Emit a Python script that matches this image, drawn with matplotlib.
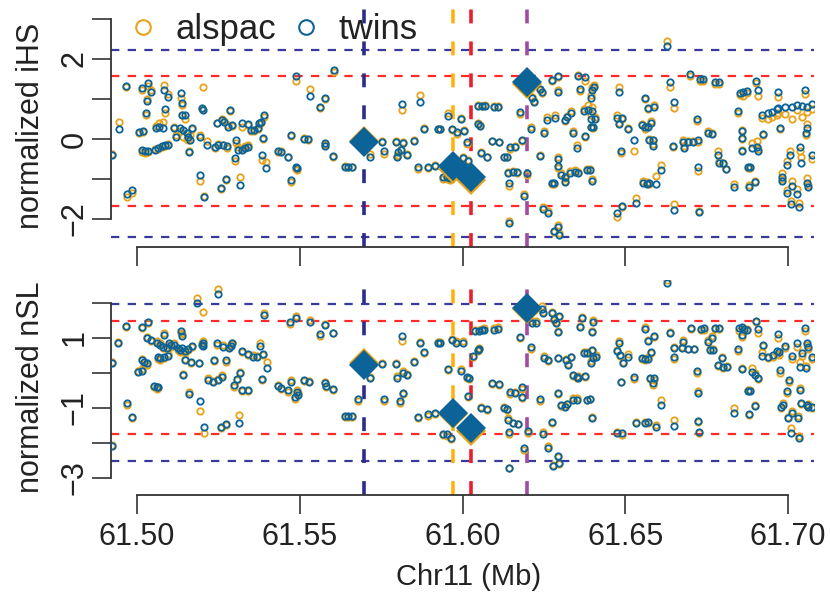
import matplotlib.pyplot as plt
from matplotlib.lines import Line2D

plt.rcParams['font.family'] = ['Liberation Sans', 'DejaVu Sans']
plt.rcParams['lines.scale_dashes'] = False

# SNP positions on chr11 (Mb) and normalized iHS per cohort
ihs_pos = [
    61.4922, 61.4945, 61.4965, 61.4968, 61.4984, 61.5006, 61.5018, 61.5014,
    61.5014, 61.5025, 61.5033, 61.5028, 61.5034, 61.5043, 61.5030, 61.5055,
    61.5065, 61.5077, 61.5086, 61.5095, 61.5058, 61.5068, 61.5080, 61.5083,
    61.5095, 61.5086, 61.5114, 61.5120, 61.5135, 61.5138, 61.5138, 61.5147,
    61.5132, 61.5141, 61.5154, 61.5157, 61.5169, 61.5163, 61.5160, 61.5194,
    61.5200, 61.5203, 61.5194, 61.5206, 61.5215, 61.5240, 61.5249, 61.5264,
    61.5276, 61.5246, 61.5261, 61.5267, 61.5286, 61.5280, 61.5292, 61.5258,
    61.5273, 61.5304, 61.5301, 61.5310, 61.5323, 61.5332, 61.5316, 61.5323,
    61.5341, 61.5350, 61.5359, 61.5372, 61.5375, 61.5381, 61.5341, 61.5390,
    61.5387, 61.5384, 61.5396, 61.5433, 61.5442, 61.5464, 61.5473, 61.5473,
    61.5488, 61.5492, 61.5488, 61.5513, 61.5525, 61.5531, 61.5562, 61.5578,
    61.5578, 61.5578, 61.5602, 61.5605, 61.5639, 61.5648, 61.5661, 61.5753,
    61.5759, 61.5716, 61.5796, 61.5817, 61.5851, 61.5802, 61.5811, 61.5829,
    61.5799, 61.5814, 61.5869, 61.5882, 61.5925, 61.5931, 61.5863, 61.5894,
    61.5916, 61.5955, 61.5995, 61.5968, 61.5983, 61.6005, 61.5940, 61.5952,
    61.5962, 61.6002, 61.6017, 61.6014, 61.6048, 61.6060, 61.6069, 61.6097,
    61.6109, 61.6048, 61.6054, 61.6057, 61.6075, 61.6091, 61.6112, 61.6127,
    61.6137, 61.6146, 61.6161, 61.6183, 61.6177, 61.6140, 61.6155, 61.6167,
    61.6143, 61.6198, 61.6189, 61.6143, 61.6214, 61.6220, 61.6238, 61.6244,
    61.6210, 61.6238, 61.6250, 61.6260, 61.6284, 61.6247, 61.6262, 61.6293,
    61.6281, 61.6296, 61.6275, 61.6293, 61.6293, 61.6315, 61.6321, 61.6333,
    61.6340, 61.6352, 61.6293, 61.6303, 61.6315, 61.6315, 61.6330, 61.6346,
    61.6355, 61.6275, 61.6281, 61.6293, 61.6355, 61.6361, 61.6373, 61.6376,
    61.6398, 61.6404, 61.6395, 61.6386, 61.6398, 61.6395, 61.6407, 61.6395,
    61.6401, 61.6376, 61.6382, 61.6392, 61.6398, 61.6475, 61.6490, 61.6533,
    61.6481, 61.6475, 61.6481, 61.6490, 61.6508, 61.6487, 61.6527, 61.6561,
    61.6570, 61.6588, 61.6551, 61.6561, 61.6570, 61.6579, 61.6573, 61.6585,
    61.6585, 61.6610, 61.6555, 61.6567, 61.6573, 61.6594, 61.6628, 61.6637,
    61.6650, 61.6647, 61.6650, 61.6677, 61.6692, 61.6708, 61.6723, 61.6680,
    61.6720, 61.6723, 61.6727, 61.6699, 61.6730, 61.6739, 61.6776, 61.6788,
    61.6754, 61.6766, 61.6785, 61.6788, 61.6800, 61.6810, 61.6834, 61.6846,
    61.6853, 61.6862, 61.6874, 61.6859, 61.6859, 61.6859, 61.6877, 61.6883,
    61.6880, 61.6889, 61.6905, 61.6908, 61.6899, 61.6902, 61.6908, 61.6920,
    61.6923, 61.6939, 61.6951, 61.6966, 61.6969, 61.6991, 61.7012, 61.7028,
    61.7043, 61.7058, 61.7074, 61.6969, 61.6975, 61.7052, 61.7058, 61.7055,
    61.6997, 61.7006, 61.6982, 61.6982, 61.7012, 61.6997, 61.7009, 61.7037,
    61.7040, 61.7028, 61.7034, 61.7058, 61.7061, 61.7074,
]
ihs_twins = [
    -0.40, 0.25, 1.33, -1.38, -1.28, 0.18, 0.20, 1.28,
    -0.28, -0.30, -0.30, 0.65, 1.40, 1.18, 0.95, -0.28,
    -0.22, -0.18, -0.15, -0.15, 0.28, 0.30, 0.28, 1.23,
    1.05, 0.75, 0.28, 0.05, 1.15, 0.90, 0.60, 0.60,
    0.28, 0.22, 0.15, 0.05, 0.28, -0.03, -0.33, 0.05,
    0.78, 0.72, -0.90, -1.45, -0.15, -0.20, -0.15, -0.15,
    -0.18, 0.40, 0.48, 0.43, 0.73, 0.30, 0.35, -1.23,
    -1.00, -0.03, -0.48, -0.28, -0.28, -0.23, -1.15, 0.40,
    0.38, 0.23, 0.23, 0.28, 0.40, 0.43, -0.20, 0.60,
    0.03, -0.40, -0.73, -0.30, -0.33, -0.45, 0.10, -1.03,
    -0.70, -0.73, 1.58, 0.00, 0.00, 1.08, 0.80, 1.03,
    -0.10, -0.18, -0.43, 1.73, -0.70, -0.70, -0.70, -0.08,
    -0.30, -0.45, -0.08, -0.10, -0.05, -0.33, -0.28, -0.40,
    -0.45, 0.88, 0.93, 0.25, 0.25, 0.25, -0.70, -0.70,
    -0.68, 0.58, 0.50, 0.25, 0.18, 0.20, -0.95, -0.95,
    -0.98, -0.48, -0.55, -0.08, 0.83, 0.83, 0.83, 0.80,
    0.80, 0.38, 0.33, -0.35, -0.45, -0.05, -0.08, -0.45,
    -0.45, -0.20, -0.20, -0.03, 0.68, -0.85, -0.83, -0.83,
    -1.10, -0.85, -1.43, -2.10, 1.03, 0.93, 1.25, 1.18,
    0.25, -0.43, 0.15, 0.48, 0.53, -1.75, -1.85, -2.20,
    -2.30, -2.40, 1.48, 1.58, 1.18, 0.48, 0.55, 0.65,
    0.15, -0.23, -0.68, -0.90, -0.95, -1.08, -0.85, -0.83,
    -0.85, -1.10, -1.10, -0.50, 1.58, 1.25, 0.70, 1.55,
    1.23, 1.30, 1.03, 0.73, 0.70, 0.50, 0.50, 0.30,
    0.30, 0.08, -0.78, -0.78, -1.05, -1.85, -1.68, -1.60,
    1.18, 0.53, 0.38, 0.53, 0.25, -0.30, -0.03, 1.03,
    0.78, 0.80, 0.35, 0.30, 0.30, 0.40, -0.03, -0.03,
    -0.18, -0.78, -1.10, -1.13, -1.10, -1.13, 2.33, 1.43,
    0.93, -0.18, -1.78, -0.08, -0.08, -0.08, -0.03, -0.23,
    0.50, -0.70, -1.83, 1.63, 1.50, 1.50, 1.43, 1.43,
    0.15, 0.13, -0.40, -0.60, -0.60, -0.75, -1.20, 0.70,
    1.15, 1.18, 1.20, 0.20, 0.03, -0.30, -0.70, -0.70,
    -1.20, -0.23, -0.20, -0.30, -1.08, 1.45, 1.23, 0.60,
    0.13, 0.65, 0.68, 0.75, 0.78, 0.80, 0.80, 0.85,
    0.83, 0.80, 0.88, 1.18, 0.28, 1.23, 0.28, 0.15,
    -0.65, -0.40, -0.95, -1.05, -1.18, -1.35, -1.63, -0.20,
    -0.60, -1.38, -1.70, -1.10, -1.20, -0.40,
]
ihs_alspac = [
    -0.38, 0.43, 1.30, -1.45, -1.35, 0.15, 0.18, 1.22,
    -0.33, -0.35, -0.33, 0.60, 1.32, 1.22, 1.00, -0.25,
    -0.25, -0.20, -0.18, -0.12, 0.33, 0.40, 0.42, 1.35,
    1.12, 0.65, 0.30, 0.10, 1.02, 0.85, 0.60, 0.50,
    0.20, 0.05, 0.00, -0.02, 0.25, 0.10, -0.30, 0.10,
    0.75, 1.30, -1.05, -1.42, -0.05, -0.22, -0.13, -0.15,
    -0.22, 0.40, 0.50, 0.45, 0.70, 0.35, 0.33, -1.25,
    -1.02, -0.10, -0.55, -0.20, -0.25, -0.18, -0.95, 0.30,
    0.35, 0.20, 0.20, 0.25, 0.38, 0.40, -0.15, 0.55,
    0.00, -0.53, -0.58, -0.32, -0.30, -0.45, 0.08, -1.08,
    -0.75, -0.78, 1.45, 0.02, -0.03, 1.25, 0.78, 1.00,
    -0.12, -0.15, -0.45, 1.68, -0.68, -0.70, -0.70, -0.05,
    -0.38, -0.38, -0.05, -0.08, -0.03, -0.40, -0.25, -0.38,
    -0.42, 0.73, 1.10, 0.28, 0.25, 0.25, -0.75, -0.72,
    -0.65, 0.65, 0.52, 0.22, 0.12, 0.22, -1.00, -1.00,
    -1.02, -0.45, -0.52, -0.12, 0.85, 0.83, 0.85, 0.83,
    0.83, 0.40, 0.35, -0.33, -0.45, -0.05, -0.08, -0.45,
    -0.45, -0.25, -0.18, -0.05, 0.63, -0.83, -0.80, -0.85,
    -1.18, -0.90, -1.38, -2.05, 1.05, 0.95, 1.22, 1.15,
    0.30, -0.40, 0.20, 0.55, 0.60, -1.70, -1.80, -2.15,
    -2.33, -2.35, 1.45, 1.55, 1.22, 0.45, 0.58, 0.70,
    0.20, -0.15, -0.72, -0.85, -0.98, -1.05, -0.80, -0.78,
    -0.83, -1.12, -1.12, -0.45, 1.60, 1.20, 0.75, 1.45,
    1.30, 1.35, 1.10, 0.85, 0.80, 0.60, 0.55, 0.30,
    0.28, 0.05, -0.75, -0.75, -1.00, -1.95, -1.70, -1.48,
    1.30, 0.60, 0.40, 0.50, 0.28, -0.35, -0.30, 1.00,
    0.75, 0.85, 0.38, 0.25, 0.32, 0.45, 0.00, -0.02,
    -0.12, -0.65, -1.05, -1.08, -1.12, -0.93, 2.45, 1.30,
    0.78, -0.20, -1.63, -0.03, -0.05, -0.05, -0.08, -0.18,
    0.45, -0.80, -1.80, 1.58, 1.45, 1.45, 1.38, 1.38,
    0.20, 0.15, -0.30, -0.55, -0.62, -0.75, -1.12, 0.65,
    1.10, 1.08, 1.15, 0.22, 0.00, -0.28, -0.72, -0.72,
    -1.15, -0.10, -0.05, -0.25, -1.05, 1.40, 1.08, 0.52,
    0.10, 0.50, 0.55, 0.60, 0.65, 0.62, 0.50, 0.72,
    0.55, 0.68, 0.75, 1.05, 0.25, 1.12, 0.38, 0.10,
    -0.55, -0.30, -0.85, -1.00, -1.05, -1.28, -1.55, -0.30,
    -0.45, -1.25, -1.60, -0.98, -1.15, -0.50,
]

# normalized nSL for the same region
nsl_pos = [
    61.4923, 61.4923, 61.4942, 61.4966, 61.4969, 61.4985, 61.5003, 61.5015,
    61.5015, 61.5022, 61.5031, 61.5015, 61.5034, 61.5031, 61.5043, 61.5052,
    61.5061, 61.5065, 61.5061, 61.5071, 61.5080, 61.5092, 61.5098, 61.5104,
    61.5065, 61.5071, 61.5083, 61.5095, 61.5083, 61.5114, 61.5126, 61.5132,
    61.5138, 61.5147, 61.5157, 61.5169, 61.5135, 61.5138, 61.5147, 61.5166,
    61.5141, 61.5160, 61.5190, 61.5200, 61.5203, 61.5194, 61.5206, 61.5249,
    61.5184, 61.5202, 61.5218, 61.5233, 61.5249, 61.5261, 61.5237, 61.5246,
    61.5264, 61.5273, 61.5283, 61.5289, 61.5292, 61.5258, 61.5273, 61.5298,
    61.5307, 61.5316, 61.5323, 61.5323, 61.5341, 61.5313, 61.5341, 61.5356,
    61.5369, 61.5378, 61.5387, 61.5399, 61.5384, 61.5390, 61.5433, 61.5442,
    61.5473, 61.5464, 61.5492, 61.5495, 61.5486, 61.5470, 61.5488, 61.5513,
    61.5528, 61.5531, 61.5562, 61.5578, 61.5602, 61.5578, 61.5581, 61.5602,
    61.5639, 61.5648, 61.5661, 61.5679, 61.5716, 61.5753, 61.5759, 61.5796,
    61.5799, 61.5817, 61.5829, 61.5808, 61.5817, 61.5814, 61.5851, 61.5869,
    61.5882, 61.5863, 61.5894, 61.5916, 61.5925, 61.5931, 61.5955, 61.5968,
    61.5980, 61.6002, 61.5995, 61.6014, 61.6020, 61.6017, 61.5940, 61.5952,
    61.5965, 61.6032, 61.6048, 61.6051, 61.6038, 61.6051, 61.6060, 61.6066,
    61.6097, 61.6109, 61.6057, 61.6075, 61.6091, 61.6112, 61.6127, 61.6137,
    61.6146, 61.6161, 61.6183, 61.6183, 61.6177, 61.6140, 61.6155, 61.6170,
    61.6143, 61.6201, 61.6189, 61.6143, 61.6210, 61.6214, 61.6226, 61.6244,
    61.6247, 61.6238, 61.6247, 61.6250, 61.6262, 61.6293, 61.6262, 61.6275,
    61.6281, 61.6296, 61.6287, 61.6293, 61.6293, 61.6278, 61.6296, 61.6293,
    61.6275, 61.6303, 61.6315, 61.6321, 61.6340, 61.6352, 61.6318, 61.6324,
    61.6333, 61.6340, 61.6352, 61.6361, 61.6367, 61.6355, 61.6373, 61.6376,
    61.6398, 61.6401, 61.6382, 61.6398, 61.6401, 61.6410, 61.6395, 61.6382,
    61.6392, 61.6398, 61.6475, 61.6490, 61.6481, 61.6475, 61.6484, 61.6493,
    61.6508, 61.6487, 61.6527, 61.6533, 61.6561, 61.6570, 61.6588, 61.6551,
    61.6561, 61.6570, 61.6579, 61.6576, 61.6588, 61.6585, 61.6610, 61.6561,
    61.6570, 61.6594, 61.6628, 61.6637, 61.6650, 61.6650, 61.6650, 61.6677,
    61.6674, 61.6692, 61.6711, 61.6702, 61.6720, 61.6723, 61.6723, 61.6727,
    61.6733, 61.6742, 61.6754, 61.6766, 61.6760, 61.6769, 61.6776, 61.6788,
    61.6785, 61.6797, 61.6813, 61.6800, 61.6834, 61.6846, 61.6849, 61.6859,
    61.6865, 61.6874, 61.6859, 61.6859, 61.6880, 61.6877, 61.6883, 61.6889,
    61.6899, 61.6908, 61.6899, 61.6902, 61.6908, 61.6923, 61.6920, 61.6939,
    61.6954, 61.6966, 61.6972, 61.6969, 61.6975, 61.6991, 61.7012, 61.7028,
    61.7043, 61.7058, 61.7061, 61.7052, 61.7037, 61.7055, 61.7074, 61.6997,
    61.7003, 61.7037, 61.6985, 61.6979, 61.7000, 61.7012, 61.7031, 61.7009,
    61.7034, 61.7040, 61.7058, 61.7061, 61.7074,
]
nsl_twins = [
    0.29, -2.09, 0.86, 1.34, -0.86, -1.26, 0.03, 0.06,
    0.37, 0.31, 0.29, 1.31, 1.46, 1.00, 0.94, -0.37,
    -0.40, -0.40, 0.86, 0.80, 0.74, 0.71, 0.86, 0.80,
    0.46, 0.43, 0.46, 0.49, 1.09, 0.80, 0.71, 0.66,
    0.71, 0.63, 0.69, 0.77, 1.20, 1.06, 0.37, 0.31,
    -0.06, -0.60, 0.29, 0.80, 0.86, -0.80, -1.54, 2.26,
    2.00, 0.78, -0.20, -0.26, -0.20, -0.11, 0.37, 0.86,
    0.74, 0.37, 0.71, 0.77, 0.86, -1.54, -1.46, -0.34,
    -0.17, 0.00, 0.63, -0.49, -0.49, -1.43, 0.54, 0.46,
    0.46, 0.77, 0.54, 0.14, -0.17, 1.66, -0.37, -0.43,
    -0.26, -0.49, -0.54, -0.63, -0.69, 1.46, 1.57, -0.20,
    -0.26, 1.46, 1.11, 1.37, 1.14, -0.29, -0.37, -0.46,
    -1.23, -1.23, -1.23, -0.74, -0.14, 0.26, -0.74, 0.26,
    -0.14, 0.00, -0.06, -0.80, -0.57, 1.06, 0.31, 0.86,
    0.60, -1.26, -1.17, -1.14, 0.86, 0.86, 0.11, 0.94,
    0.86, 0.86, 0.06, -0.11, -0.14, -0.66, -1.74, -1.74,
    -1.86, 0.49, 0.66, 0.69, 1.20, 1.20, 1.23, 1.23,
    1.23, 1.26, -1.00, -1.03, -0.29, -0.31, -1.00, -1.03,
    -0.54, -0.57, -0.40, -0.69, 1.03, -1.34, -1.43, -1.46,
    -1.68, -1.66, -2.14, -2.71, 0.74, 1.43, 1.43, 1.83,
    1.71, -0.74, -1.74, 0.43, 0.37, 0.43, -2.14, 1.71,
    1.54, 1.63, 1.43, 1.17, -2.37, -2.66, -2.57, -0.57,
    -1.40, -0.91, -0.97, -0.89, -0.77, -0.77, 0.37, 0.23,
    0.46, -0.06, -0.11, 1.31, 1.57, -0.14, 0.57, -0.09,
    1.17, 1.46, 0.57, 0.66, 0.43, 0.46, 0.29, -0.77,
    -0.74, -1.29, -1.71, -1.71, 0.86, 0.63, 0.51, 0.29,
    0.46, -0.26, -0.11, -1.43, 1.26, 0.91, 1.06, 0.43,
    0.40, 0.40, 0.60, -0.14, -0.14, -0.29, -0.91, -1.43,
    -1.40, -1.54, 2.57, 1.14, 0.71, 0.46, -1.51, 0.89,
    0.71, 0.69, 0.69, 1.29, 0.06, -0.57, -1.37, -1.69,
    1.26, 1.29, 0.89, 1.00, 0.66, 0.66, 1.29, 1.29,
    0.23, 0.43, 0.17, 0.17, -1.14, 0.69, 1.29, 1.31,
    1.26, 1.23, 1.09, 0.11, -1.17, -0.51, -0.51, 0.03,
    -0.06, -0.14, -0.94, 1.49, 1.26, 0.80, 0.49, 0.46,
    0.51, 0.63, 0.60, 1.11, 0.09, 0.77, 0.49, 0.86,
    0.57, 0.86, 0.74, 1.29, 0.17, 0.14, 0.46, -0.51,
    -0.20, -0.49, -0.91, -0.97, -1.29, -1.14, -1.29, -1.71,
    -1.86, -0.86, -0.91, -0.97, -0.97,
]
nsl_alspac = [
    0.30, -2.05, 0.88, 1.30, -0.92, -1.28, 0.05, 0.10,
    0.40, 0.25, 0.22, 1.28, 1.42, 1.02, 0.90, -0.40,
    -0.45, -0.43, 0.90, 0.85, 0.72, 0.75, 0.80, 0.75,
    0.40, 0.38, 0.43, 0.55, 1.15, 0.85, 0.65, 0.60,
    0.62, 0.58, 0.65, 0.75, 1.15, 1.10, 0.40, 0.28,
    -0.02, -0.55, 0.28, 0.86, 0.90, -1.09, -1.71, 2.40,
    2.14, 1.74, -0.15, -0.22, -0.18, -0.05, 0.34, 0.80,
    0.80, 0.30, 0.75, 0.82, 0.85, -1.57, -1.48, -0.40,
    -0.20, 0.02, 0.60, -0.52, -0.52, -1.20, 0.50, 0.50,
    0.48, 0.86, 0.52, 0.30, -0.20, 1.72, -0.34, -0.46,
    -0.20, -0.55, -0.50, -0.58, -0.75, 1.40, 1.62, -0.22,
    -0.24, 1.50, 1.05, 1.40, 1.14, -0.25, -0.40, -0.48,
    -1.25, -1.26, -1.26, -0.80, -0.12, 0.28, -0.80, 0.28,
    -0.10, 0.05, -0.04, -0.85, -0.60, 0.91, 0.34, 0.88,
    0.56, -1.30, -1.23, -1.17, 0.88, 0.88, 0.08, 0.97,
    0.90, 0.92, 0.10, -0.15, -0.17, -0.68, -1.77, -1.80,
    -1.90, 0.45, 0.62, 0.72, 1.23, 1.23, 1.26, 1.28,
    1.28, 1.30, -0.97, -1.06, -0.32, -0.34, -0.97, -1.06,
    -0.60, -0.55, -0.45, -0.72, 1.00, -1.30, -1.42, -1.45,
    -1.74, -1.72, -2.20, -2.71, 0.69, 1.48, 1.48, 1.90,
    1.75, -0.79, -1.70, 0.48, 0.34, 0.43, -2.10, 1.74,
    1.50, 1.60, 1.46, 1.20, -2.40, -2.63, -2.60, -0.60,
    -1.43, -0.95, -0.93, -0.88, -0.71, -0.72, 0.40, 0.26,
    0.45, -0.10, -0.15, 1.34, 1.60, -0.10, 0.60, -0.12,
    1.20, 1.52, 0.60, 0.64, 0.45, 0.50, 0.34, -0.76,
    -0.74, -1.25, -1.68, -1.76, 0.91, 0.66, 0.48, 0.31,
    0.53, -0.26, -0.16, -1.40, 1.30, 0.94, 1.03, 0.40,
    0.38, 0.45, 0.57, -0.17, -0.20, -0.33, -0.77, -1.40,
    -1.43, -1.48, 2.66, 1.17, 0.74, 0.40, -1.34, 0.94,
    0.74, 0.69, 0.69, 1.26, 0.00, -0.51, -1.40, -1.71,
    1.23, 1.23, 0.94, 1.05, 0.69, 0.69, 1.26, 1.26,
    0.20, 0.46, 0.20, 0.14, -1.00, 0.63, 1.20, 1.26,
    1.20, 1.26, 1.03, 0.14, -1.20, -0.49, -0.49, 0.14,
    0.00, -0.17, -0.91, 1.46, 1.14, 0.77, 0.60, 0.43,
    0.46, 0.54, 0.51, 1.00, 0.00, 0.70, 0.40, 0.74,
    0.49, 0.80, 0.69, 1.20, 0.31, 0.20, 0.40, -0.57,
    -0.26, -0.43, -0.86, -1.00, -1.26, -1.09, -1.23, -1.57,
    -1.80, -0.89, -0.94, -0.89, -1.00,
]

# lead SNPs (one marker line each) and their scores
lead_pos = [61.5698, 61.5972, 61.6026, 61.6197]
lead_colors = ['#2c2b8e', '#ffb20f', '#ee1d2b', '#a04ca2']
ihs_lead_twins = [-0.08, -0.68, -0.95, 1.42]
ihs_lead_alspac = [-0.04, -0.74, -1.02, 1.38]
nsl_lead_twins = [0.23, -1.14, -1.57, 1.86]
nsl_lead_alspac = [0.28, -1.18, -1.66, 1.82]

# significance thresholds
ihs_red = [-1.675, 1.575]
ihs_blue = [-2.46, 2.23]
nsl_red = [-1.745, 1.49]
nsl_blue = [-2.51, 1.96]

xticks = [61.50, 61.55, 61.60, 61.65, 61.70]
xticklabels = ['61.50', '61.55', '61.60', '61.65', '61.70']

twins_col = '#0b6398'
alspac_col = '#e8a31a'
axis_col = '#333333'

W, H = 830, 592
fig = plt.figure(figsize=(W / 100, H / 100), dpi=100)


def px_axes(left, right, top, bottom):
    return fig.add_axes([left / W, 1 - bottom / H, (right - left) / W, (bottom - top) / H])


def draw_panel(ax, pos, tw, al, lead_tw, lead_al, red, blue, ylim, yticks, ylabels, ylabel):
    ax.set_xlim(61.492, 61.708)
    ax.set_ylim(*ylim)
    for v in red:
        ax.axhline(v, color='#ff2b2b', lw=1.6, ls=(0, (6, 6)), zorder=1)
    for v in blue:
        ax.axhline(v, color='#3a3a9c', lw=1.6, ls=(0, (6, 6)), zorder=1)
    for x, c in zip(lead_pos, lead_colors):
        ax.axvline(x, color=c, lw=2.6, ls=(0, (10, 13)), zorder=1)

    ax.plot(pos, al, 'o', mfc='none', mec=alspac_col, ms=4.6, mew=1.3, zorder=2)
    ax.plot(pos, tw, 'o', mfc='none', mec=twins_col, ms=4.6, mew=1.3, zorder=3)
    ax.plot(lead_pos, lead_al, 'D', color=alspac_col, ms=15.5, mew=0, zorder=4)
    ax.plot(lead_pos, lead_tw, 'D', color=twins_col, ms=15.5, mew=0, zorder=5)

    for side in ['top', 'right']:
        ax.spines[side].set_visible(False)
    for side in ['left', 'bottom']:
        ax.spines[side].set_color(axis_col)
        ax.spines[side].set_linewidth(1.3)
    ax.spines['left'].set_bounds(yticks[0], yticks[-1])
    ax.spines['bottom'].set_bounds(xticks[0], xticks[-1])

    ax.set_xticks(xticks)
    ax.set_yticks(yticks)
    ax.set_yticklabels(ylabels)
    ax.tick_params(axis='both', direction='out', color=axis_col, width=1.2,
                   labelsize=22, labelcolor='#222222')
    ax.tick_params(axis='x', length=14, pad=5.5)
    ax.tick_params(axis='y', length=13.5, pad=2, labelrotation=90)
    for lbl in ax.get_yticklabels():
        lbl.set_va('center')

    ax.set_ylabel(ylabel, fontsize=22, color='#222222')
    ax.yaxis.set_label_coords(-0.092, 0.5)


ax1 = px_axes(111, 814, 5, 247)
ax2 = px_axes(111, 814, 280, 495)

draw_panel(ax1, ihs_pos, ihs_twins, ihs_alspac, ihs_lead_twins, ihs_lead_alspac,
           ihs_red, ihs_blue, (-2.70, 3.35), [-2, -1, 0, 1, 2, 3],
           ['\u22122', '', '0', '', '2', ''], 'normalized iHS')
ax1.set_xticklabels([])

draw_panel(ax2, nsl_pos, nsl_twins, nsl_alspac, nsl_lead_twins, nsl_lead_alspac,
           nsl_red, nsl_blue, (-3.486, 2.657), [-3, -2, -1, 0, 1, 2],
           ['\u22123', '', '\u22121', '', '1', ''], 'normalized nSL')
ax2.set_xticklabels(xticklabels)
ax2.set_xlabel('Chr11 (Mb)', fontsize=21, color='#222222')
ax2.xaxis.set_label_coords(0.509, -0.4186)
ax2.xaxis.label.set_va('baseline')

handles = [
    Line2D([], [], ls='none', marker='o', mfc='none', mec=alspac_col, ms=10.5, mew=1.5),
    Line2D([], [], ls='none', marker='o', mfc='none', mec=twins_col, ms=10.5, mew=1.5),
]
ax1.legend(handles, ['alspac', 'twins'], loc='upper left', bbox_to_anchor=(0.0213, 0.965),
           ncol=2, frameon=False, fontsize=25, handlelength=1.0, handletextpad=0.43,
           columnspacing=0.37, borderpad=0, borderaxespad=0, labelcolor='#222222')

fig.savefig('out.png', dpi=100)
